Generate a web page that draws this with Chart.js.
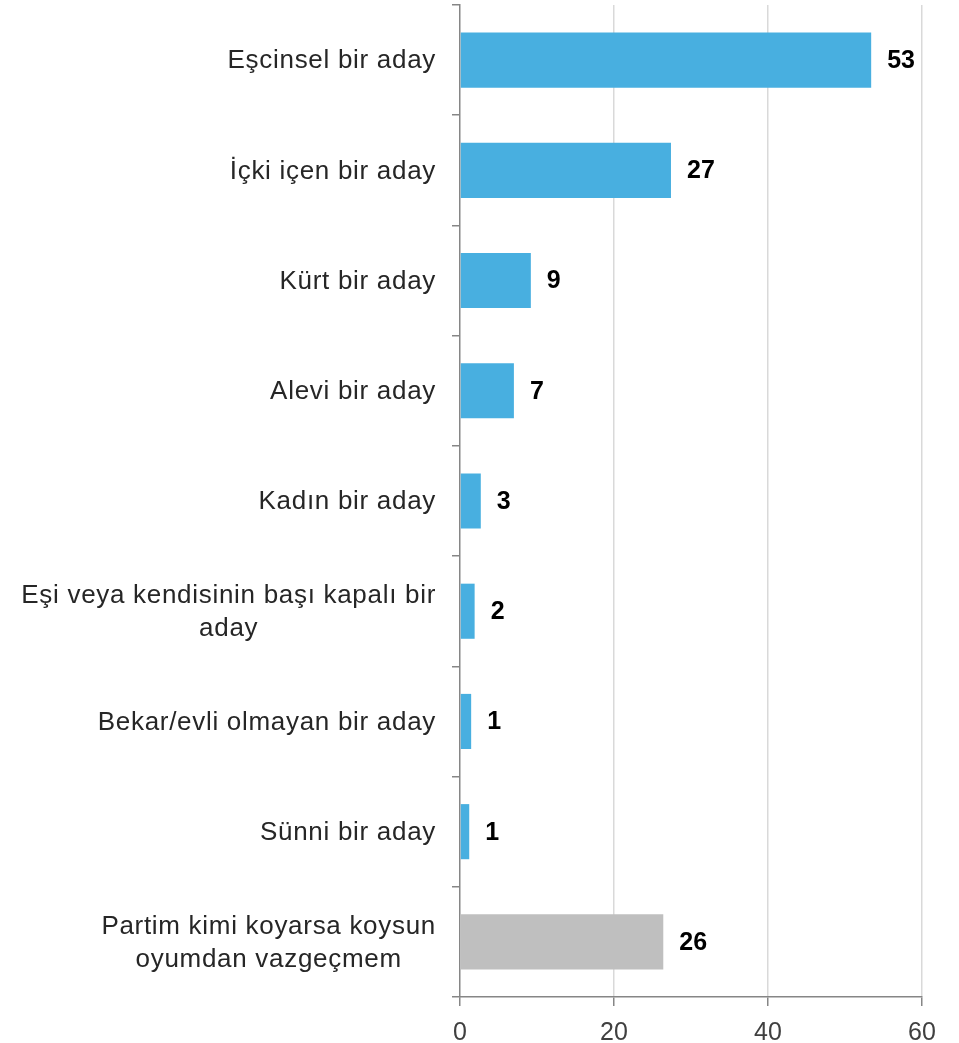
<!DOCTYPE html>
<html>
<head>
<meta charset="utf-8">
<script src="https://cdn.jsdelivr.net/npm/chart.js@4"></script>
<style>
  html, body { margin: 0; padding: 0; background: #fff; }
  #wrap { width: 959px; height: 1043px; position: relative; }
</style>
</head>
<body>
<div id="wrap"><canvas id="chart"></canvas></div>
<script>
// categories (multi-line labels as arrays)
const categories = [
  ['Eşcinsel bir aday'],
  ['İçki içen bir aday'],
  ['Kürt bir aday'],
  ['Alevi bir aday'],
  ['Kadın bir aday'],
  ['Eşi veya kendisinin başı kapalı bir', 'aday'],
  ['Bekar/evli olmayan bir aday'],
  ['Sünni bir aday'],
  ['Partim kimi koyarsa koysun', 'oyumdan vazgeçmem']
];
const values = [53.4, 27.4, 9.2, 7.0, 2.7, 1.9, 1.45, 1.2, 26.4];
const xTicks = [0, 20, 40, 60];

const BLUE = '#48afe0';
const GREY = '#bfbfbf';
const AXIS = '#868686';
const LABEL_FONT = '26px "Liberation Sans", Arial, sans-serif';

const barColors = values.map((v, i) => i === values.length - 1 ? GREY : BLUE);

// make sure no letter spacing leaks into chart.js' own text
const resetSpacing = {
  id: 'resetSpacing',
  beforeDraw(chart){ chart.ctx.letterSpacing = '0px'; }
};

// draws the category labels: block right-aligned, lines centred inside the block
const catLabels = {
  id: 'catLabels',
  afterDraw(chart){
    const { ctx } = chart;
    const y = chart.scales.y;
    ctx.save();
    ctx.font = LABEL_FONT;
    ctx.letterSpacing = '0.7px';
    ctx.fillStyle = '#262626';
    ctx.textBaseline = 'middle';
    ctx.textAlign = 'center';
    const right = y.right - 24;
    const lh = 33;
    categories.forEach((lines, i) => {
      const cy = y.getPixelForTick(i) + 1;
      const w = Math.max(...lines.map(l => ctx.measureText(l).width));
      const cx = right - w / 2;
      const y0 = cy - (lines.length - 1) * lh / 2;
      lines.forEach((l, j) => ctx.fillText(l, cx, y0 + j * lh));
    });
    ctx.letterSpacing = '0px';
    ctx.restore();
  }
};

// value labels at the end of each bar
const valueLabels = {
  id: 'valueLabels',
  afterDatasetsDraw(chart){
    const { ctx } = chart;
    const meta = chart.getDatasetMeta(0);
    ctx.save();
    ctx.letterSpacing = '0px';
    ctx.font = 'bold 25px "Liberation Sans", Arial, sans-serif';
    ctx.fillStyle = '#000';
    ctx.textBaseline = 'middle';
    ctx.textAlign = 'left';
    meta.data.forEach((bar, i) => {
      ctx.fillText(String(Math.round(values[i])), bar.x + 16, bar.y + 1);
    });
    ctx.restore();
  }
};

new Chart(document.getElementById('chart'), {
  type: 'bar',
  data: {
    labels: categories.map(c => c.join(' ')),
    datasets: [{
      data: values,
      backgroundColor: barColors,
      borderWidth: 0,
      barPercentage: 0.5,
      categoryPercentage: 1
    }]
  },
  options: {
    indexAxis: 'y',
    animation: false,
    responsive: true,
    maintainAspectRatio: false,
    layout: { padding: { top: 5, right: 37, left: 0, bottom: 0 } },
    plugins: { legend: { display: false }, tooltip: { enabled: false } },
    scales: {
      x: {
        min: 0, max: 60,
        afterBuildTicks: s => { s.ticks = xTicks.map(v => ({ value: v })); },
        afterFit: s => { s.height = 46; },
        grid: {
          color: ctx => ctx.tick && ctx.tick.value === 0 ? 'rgba(0,0,0,0)' : '#d9d9d9',
          lineWidth: 1.5,
          tickColor: AXIS,
          tickLength: 9
        },
        border: { color: AXIS, width: 1.5 },
        ticks: {
          color: '#404040',
          padding: 12,
          font: { family: '"Liberation Sans", Arial, sans-serif', size: 25 }
        }
      },
      y: {
        afterFit: s => { s.width = 460; },
        grid: {
          drawOnChartArea: false,
          drawTicks: true,
          tickLength: 8,
          tickColor: AXIS,
          lineWidth: 1.5
        },
        border: { color: AXIS, width: 1.5 },
        ticks: { display: false }
      }
    }
  },
  plugins: [resetSpacing, catLabels, valueLabels]
});
</script>
</body>
</html>
